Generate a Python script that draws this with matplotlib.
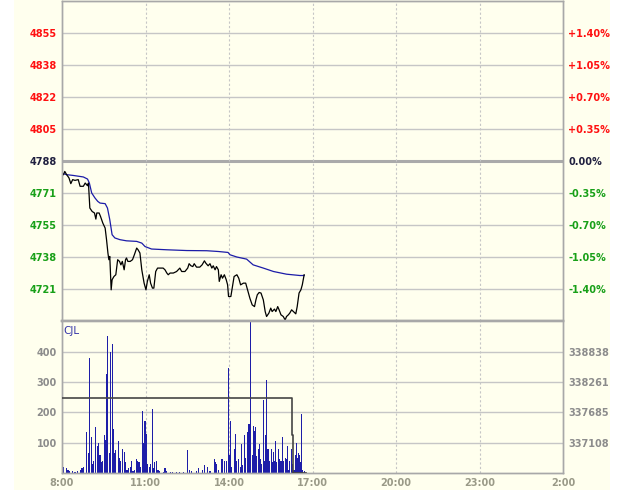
import matplotlib
matplotlib.use('Agg')
import matplotlib.pyplot as plt
from matplotlib.patches import Rectangle

# --- data (time = minutes after 8:00) ---
price_t = [3, 6, 10, 15, 19, 23, 28, 35, 39, 46, 50, 55, 57, 60, 65, 70, 73, 75, 80, 83,
           88, 93, 96, 99, 101, 103, 106, 108, 112, 116, 120, 124, 127, 130, 134, 137, 139,
           142, 147, 152, 156, 161, 164, 168, 172, 177, 181, 184, 188, 191, 195, 198, 202,
           206, 210, 213, 218, 222, 226, 229, 233, 240, 247, 254, 258, 265, 271, 274, 278,
           282, 285, 290, 297, 302, 307, 310, 315, 319, 323, 326, 330, 333, 337, 339, 343,
           346, 350, 354, 357, 359, 364, 367, 371, 377, 381, 385, 391, 396, 400, 405, 410,
           415, 418, 421, 425, 429, 434, 438, 441, 446, 450, 453, 458, 461, 465, 468, 472,
           477, 481, 484, 488, 491, 495, 499, 504, 507, 511, 515, 518, 520, 522]
price = [4780.9, 4782.6, 4780.9, 4779.2, 4776.2, 4778.3, 4777.9, 4778.3, 4774.8, 4774.8,
         4776.5, 4775.1, 4776.5, 4763.4, 4761.6, 4760.8, 4757.6, 4760.8, 4760.8, 4759.0,
         4755.5, 4752.9, 4746.8, 4739.8, 4736.3, 4738.0, 4720.5, 4725.8, 4727.5, 4728.4,
         4736.3, 4735.4, 4733.6, 4735.4, 4731.0, 4736.3, 4737.2, 4735.4, 4735.4, 4736.3,
         4738.9, 4742.4, 4741.5, 4739.8, 4731.0, 4724.0, 4720.5, 4724.9, 4728.4, 4724.0,
         4721.4, 4721.4, 4730.1, 4731.9, 4731.9, 4731.9, 4731.9, 4731.0, 4729.3, 4728.4,
         4729.3, 4729.3, 4730.1, 4731.9, 4730.1, 4730.1, 4731.9, 4734.2, 4733.1, 4732.7,
         4734.2, 4732.4, 4732.4, 4733.6, 4735.7, 4734.5, 4733.1, 4734.2, 4731.9, 4733.1,
         4731.0, 4732.7, 4731.0, 4724.9, 4728.4, 4726.6, 4728.4, 4725.8, 4723.1, 4717.0,
         4717.0, 4721.4, 4727.5, 4728.4, 4726.6, 4723.1, 4724.0, 4724.0, 4720.5, 4716.1,
         4712.6, 4711.7, 4715.2, 4717.9, 4719.1, 4718.8, 4715.2, 4709.1, 4706.5, 4708.3,
         4710.9, 4709.1, 4710.4, 4709.1, 4711.7, 4710.0, 4707.4, 4706.5, 4704.7, 4706.5,
         4707.4, 4708.3, 4710.0, 4709.1, 4707.9, 4711.7, 4718.8, 4720.5, 4723.1, 4725.8,
         4728.4]

avg_t = [3, 10, 24, 46, 55, 59, 64, 71, 77, 82, 93, 98, 103, 108, 114, 125, 139, 161, 172,
         179, 193, 226, 269, 312, 337, 358, 362, 377, 398, 412, 434, 456, 484, 513, 522]
avg_price = [4781.4, 4780.9, 4780.5, 4779.7, 4778.6, 4776.5, 4771.3, 4768.7, 4766.9, 4766.0,
             4765.7, 4763.4, 4757.3, 4749.4, 4747.7, 4746.8, 4746.2, 4745.9, 4745.0, 4743.2,
             4741.9, 4741.5, 4741.1, 4741.0, 4740.6, 4740.1, 4738.9, 4737.7, 4736.6, 4733.6,
             4731.9, 4730.1, 4728.7, 4728.0, 4728.0]

vol_t = [1, 4, 9, 13, 17, 22, 28, 34, 39, 43, 47, 52, 57, 59, 63, 65, 68, 73, 76, 79, 82,
         84, 87, 91, 93, 96, 98, 102, 105, 108, 111, 114, 116, 121, 123, 127, 130, 134, 136,
         140, 143, 147, 149, 153, 157, 160, 163, 166, 170, 174, 176, 179, 182, 183, 185, 188,
         190, 195, 197, 200, 203, 207, 211, 218, 222, 226, 233, 239, 246, 254, 261, 271, 274,
         280, 289, 295, 302, 308, 313, 319, 328, 330, 334, 338, 345, 351, 355, 358, 361, 363,
         366, 371, 374, 376, 380, 384, 387, 390, 394, 396, 399, 401, 403, 405, 407, 410, 412,
         415, 418, 420, 423, 425, 427, 431, 434, 436, 439, 441, 444, 447, 451, 453, 455, 458,
         461, 463, 466, 469, 472, 475, 477, 481, 484, 486, 489, 491, 494, 496, 500, 503, 505,
         508, 509, 512, 515, 516, 519, 522]
vol = [25, 20, 15, 10, 5, 8, 3, 5, 10, 15, 20, 135, 65, 380, 120, 30, 40, 150, 90, 100, 60,
       35, 40, 125, 110, 325, 450, 65, 400, 425, 145, 65, 75, 105, 50, 40, 80, 70, 35, 10, 15,
       20, 40, 5, 10, 45, 40, 35, 20, 205, 100, 170, 130, 55, 30, 20, 30, 210, 15, 35, 40, 10,
       5, 3, 15, 5, 3, 2, 3, 3, 3, 75, 10, 5, 5, 15, 10, 25, 20, 5, 45, 35, 30, 10, 45, 40, 40,
       345, 60, 170, 20, 80, 130, 40, 45, 20, 95, 25, 125, 50, 120, 135, 160, 70, 510, 60, 155,
       140, 150, 55, 80, 95, 45, 30, 240, 40, 125, 305, 80, 40, 80, 35, 70, 40, 105, 35, 80,
       45, 40, 120, 40, 50, 45, 90, 10, 40, 80, 30, 10, 60, 100, 50, 65, 60, 35, 195, 10, 5]

# open interest (right axis of volume panel)
oi_t = [0, 496, 496, 497, 497, 525]
oi = [337958, 337958, 337252, 337252, 336531, 336531]

prev_close = 4788.2
pct_step = 0.35
oi_ticks = [337108, 337685, 338261, 338838]
vol_ticks = [100, 200, 300, 400]
time_ticks = [0, 180, 360, 540, 720, 900, 1080]
time_labels = ['8:00', '11:00', '14:00', '17:00', '20:00', '23:00', '2:00']

BG = '#FFFFEE'
GRID = '#C6C6C6'
EDGE = '#A8A8A8'
RED, GREEN, DARK, GRAY = '#FF1010', '#18A018', '#202040', '#8C8C8C'
W, H = 626, 490

fig = plt.figure(figsize=(W / 100, H / 100), dpi=100)
fig.patch.set_facecolor('white')
fig.patches.append(Rectangle((14 / W, 0), (610 - 14) / W, 1, transform=fig.transFigure,
                             facecolor=BG, edgecolor='none', zorder=-10))

left, width = 62 / W, 501 / W
ax_p = fig.add_axes([left, (H - 320.5) / H, width, 319.5 / H])
ax_v = fig.add_axes([left, (H - 473) / H, width, 152 / H])

font = dict(family='DejaVu Sans', weight='bold', size=7)

# ---- price panel ----
step = prev_close * pct_step / 100
levels = [prev_close + k * step for k in range(-4, 5)]
ax_p.set_facecolor(BG)
ax_p.set_xlim(0, 1080)
ax_p.set_ylim(prev_close - 5 * step, prev_close + 5 * step)
for k, lv in zip(range(-4, 5), levels):
    if k == 0:
        ax_p.axhline(lv, color='#AAAAAA', lw=2.2, zorder=1)
    else:
        ax_p.axhline(lv, color=GRID, lw=1.0, zorder=1)
for t in time_ticks[1:-1]:
    ax_p.axvline(t, color=GRID, lw=0.8, ls=(0, (2, 2)), zorder=1)
ax_p.plot(avg_t, avg_price, color='#1C1CA8', lw=0.9, zorder=3)
ax_p.plot(price_t, price, color='black', lw=0.9, zorder=4)

ax_p.set_xticks([])
ax_p.set_yticks(levels)
ax_p.set_yticklabels([f'{lv:.0f}' for lv in levels], **font)
ax_p.tick_params(axis='y', length=0, pad=3.8)
for k, lab in zip(range(-4, 5), ax_p.get_yticklabels()):
    lab.set_color(RED if k > 0 else GREEN if k < 0 else DARK)

ax_pct = ax_p.twinx()
ax_pct.set_ylim(ax_p.get_ylim())
ax_pct.set_yticks(levels)
pct_labels = ['0.00%' if k == 0 else f'{k * pct_step:+.2f}%' for k in range(-4, 5)]
ax_pct.set_yticklabels(pct_labels, **font)
ax_pct.tick_params(axis='y', length=0, pad=3.8)
for k, lab in zip(range(-4, 5), ax_pct.get_yticklabels()):
    lab.set_color(RED if k > 0 else GREEN if k < 0 else DARK)

# ---- volume panel ----
vol_top = 501
ax_v.set_facecolor(BG)
ax_v.set_xlim(0, 1080)
ax_v.set_ylim(0, vol_top)
for v in vol_ticks:
    ax_v.axhline(v, color=GRID, lw=1.0, zorder=1)
for t in time_ticks[1:-1]:
    ax_v.axvline(t, color=GRID, lw=0.8, ls=(0, (2, 2)), zorder=1)
ax_v.bar(vol_t, vol, width=2.4, color='#1E1EA8', linewidth=0, zorder=2)
ax_v.text(0.003, 0.965, 'CJL', transform=ax_v.transAxes, va='top', ha='left',
          color='#3434A8', fontsize=7.5)

ax_v.set_yticks(vol_ticks)
ax_v.set_yticklabels([str(v) for v in vol_ticks], color=GRAY, **font)
ax_v.set_xticks(time_ticks)
ax_v.set_xticklabels(time_labels, color='#9A9A88', **font)
ax_v.tick_params(length=0)
ax_v.tick_params(axis='y', pad=3.8)
ax_v.tick_params(axis='x', pad=3.5)

oi_per_unit = (oi_ticks[-1] - oi_ticks[0]) / (vol_ticks[-1] - vol_ticks[0])
oi_lo = oi_ticks[0] - vol_ticks[0] * oi_per_unit
ax_oi = ax_v.twinx()
ax_oi.set_ylim(oi_lo, oi_lo + vol_top * oi_per_unit)
ax_oi.plot(oi_t, oi, color='#454545', lw=1.2, zorder=5)
ax_oi.set_yticks(oi_ticks)
ax_oi.set_yticklabels([str(v) for v in oi_ticks], color=GRAY, **font)
ax_oi.tick_params(axis='y', length=0, pad=3.8)

for a in (ax_p, ax_pct, ax_v, ax_oi):
    for s in a.spines.values():
        s.set_color(EDGE)
        s.set_linewidth(1.0)
for a in (ax_p, ax_pct):
    a.spines['bottom'].set_linewidth(1.6)
for a in (ax_v, ax_oi):
    a.spines['top'].set_linewidth(1.6)

fig.savefig('out.png', dpi=100)
plt.close(fig)
